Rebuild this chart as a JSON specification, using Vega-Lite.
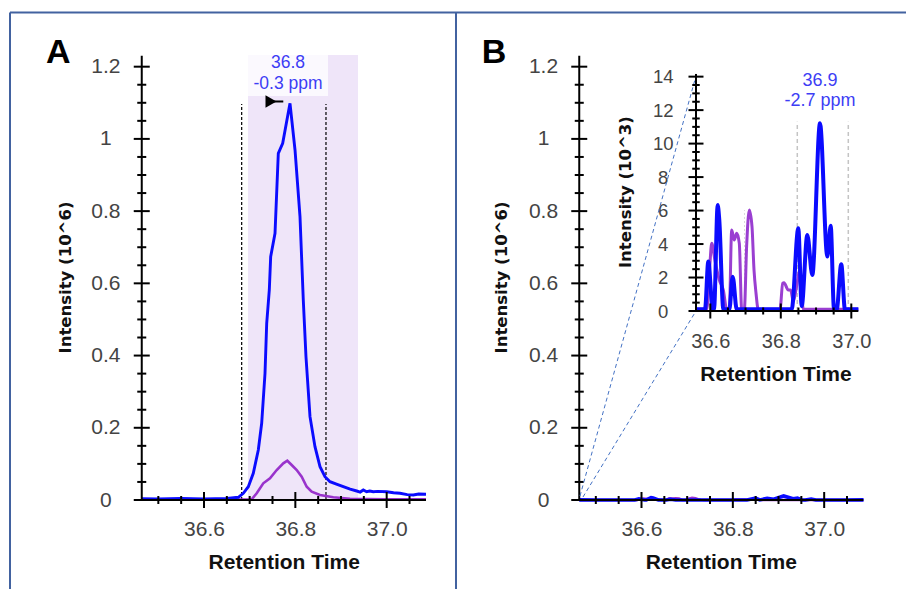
{
  "$schema": "https://vega.github.io/schema/vega-lite/v6.json",
  "width": 906,
  "height": 589,
  "padding": 0,
  "autosize": {"type": "none"},
  "background": "white",
  "config": {
    "view": {"stroke": null},
    "axis": {"domain": false, "ticks": false, "grid": false, "labelFont": "Liberation Sans", "labelFontSize": 21, "labelColor": "#444444", "titleFont": "Liberation Sans", "titleFontSize": 21, "titleFontWeight": "bold", "titleColor": "#111111", "labelOverlap": false, "labelFlush": false, "labelBound": false},
    "text": {"font": "Liberation Sans"}
  },
  "datasets": {
    "A": [
      {"t": 36.4637, "s": "b", "i": 3500}, {"t": 36.50, "s": "b", "i": 3000}, {"t": 36.55, "s": "b", "i": 4000}, {"t": 36.60, "s": "b", "i": 3000}, {"t": 36.65, "s": "b", "i": 4000},
      {"t": 36.6751, "s": "b", "i": 7500}, {"t": 36.6861, "s": "b", "i": 18600}, {"t": 36.6970, "s": "b", "i": 36800}, {"t": 36.7079, "s": "b", "i": 73900}, {"t": 36.7189, "s": "b", "i": 138500},
      {"t": 36.7263, "s": "b", "i": 212400}, {"t": 36.7336, "s": "b", "i": 350900}, {"t": 36.7373, "s": "b", "i": 489300}, {"t": 36.7430, "s": "b", "i": 581600}, {"t": 36.7460, "s": "b", "i": 673800},
      {"t": 36.7555, "s": "b", "i": 738600}, {"t": 36.7627, "s": "b", "i": 960100}, {"t": 36.7723, "s": "b", "i": 987800}, {"t": 36.7883, "s": "b", "i": 1098600}, {"t": 36.7993, "s": "b", "i": 969300},
      {"t": 36.8102, "s": "b", "i": 784600}, {"t": 36.8174, "s": "b", "i": 553900}, {"t": 36.8233, "s": "b", "i": 396800}, {"t": 36.8321, "s": "b", "i": 230700}, {"t": 36.8430, "s": "b", "i": 147600},
      {"t": 36.8540, "s": "b", "i": 92200}, {"t": 36.8649, "s": "b", "i": 64500}, {"t": 36.8759, "s": "b", "i": 50700}, {"t": 36.8900, "s": "b", "i": 44000}, {"t": 36.9050, "s": "b", "i": 36800},
      {"t": 36.9200, "s": "b", "i": 30000}, {"t": 36.9344, "s": "b", "i": 24900}, {"t": 36.9420, "s": "b", "i": 22000}, {"t": 36.9488, "s": "b", "i": 27700}, {"t": 36.9560, "s": "b", "i": 23000},
      {"t": 36.9630, "s": "b", "i": 25000}, {"t": 36.9707, "s": "b", "i": 23000}, {"t": 36.9800, "s": "b", "i": 24000}, {"t": 37.0000, "s": "b", "i": 23000}, {"t": 37.0150, "s": "b", "i": 20000},
      {"t": 37.0292, "s": "b", "i": 18600}, {"t": 37.0450, "s": "b", "i": 15000}, {"t": 37.0583, "s": "b", "i": 13800}, {"t": 37.0700, "s": "b", "i": 16500}, {"t": 37.0861, "s": "b", "i": 15800},
      {"t": 36.4637, "s": "p", "i": 1500}, {"t": 36.6000, "s": "p", "i": 1500}, {"t": 36.7044, "s": "p", "i": 2000}, {"t": 36.7154, "s": "p", "i": 18600}, {"t": 36.7298, "s": "p", "i": 46200},
      {"t": 36.7445, "s": "p", "i": 60000}, {"t": 36.7592, "s": "p", "i": 83100}, {"t": 36.7736, "s": "p", "i": 101600}, {"t": 36.7824, "s": "p", "i": 108800}, {"t": 36.7920, "s": "p", "i": 96900},
      {"t": 36.8030, "s": "p", "i": 83100}, {"t": 36.8139, "s": "p", "i": 64600}, {"t": 36.8249, "s": "p", "i": 36800}, {"t": 36.8358, "s": "p", "i": 23000}, {"t": 36.8540, "s": "p", "i": 13800},
      {"t": 36.8831, "s": "p", "i": 7500}, {"t": 36.9197, "s": "p", "i": 3600}, {"t": 37.0000, "s": "p", "i": 2000}, {"t": 37.0861, "s": "p", "i": 2000}
    ],
    "B": [
      {"t": 36.4637, "s": "b", "i": 300}, {"t": 36.5, "s": "b", "i": 200}, {"t": 36.5594, "s": "b", "i": 100}, {"t": 36.585, "s": "b", "i": 100}, {"t": 36.5943, "s": "b", "i": 2950},
      {"t": 36.607, "s": "b", "i": 100}, {"t": 36.6105, "s": "b", "i": 100}, {"t": 36.621, "s": "b", "i": 6330}, {"t": 36.6255, "s": "b", "i": 5440}, {"t": 36.637, "s": "b", "i": 100},
      {"t": 36.654, "s": "b", "i": 100}, {"t": 36.6635, "s": "b", "i": 2050}, {"t": 36.675, "s": "b", "i": 100}, {"t": 36.75, "s": "b", "i": 100}, {"t": 36.8, "s": "b", "i": 100},
      {"t": 36.8309, "s": "b", "i": 100}, {"t": 36.8496, "s": "b", "i": 4940}, {"t": 36.8593, "s": "b", "i": 300}, {"t": 36.8752, "s": "b", "i": 4540}, {"t": 36.8894, "s": "b", "i": 2150},
      {"t": 36.9112, "s": "b", "i": 11210}, {"t": 36.932, "s": "b", "i": 3250}, {"t": 36.9415, "s": "b", "i": 5100}, {"t": 36.951, "s": "b", "i": 100}, {"t": 36.9586, "s": "b", "i": 100},
      {"t": 36.9715, "s": "b", "i": 2800}, {"t": 36.982, "s": "b", "i": 100}, {"t": 37.02, "s": "b", "i": 100}, {"t": 37.05, "s": "b", "i": 200}, {"t": 37.0861, "s": "b", "i": 300},
      {"t": 36.4637, "s": "p", "i": 100}, {"t": 36.5594, "s": "p", "i": 100}, {"t": 36.59, "s": "p", "i": 100}, {"t": 36.598, "s": "p", "i": 2500}, {"t": 36.604, "s": "p", "i": 4040},
      {"t": 36.613, "s": "p", "i": 3050}, {"t": 36.6256, "s": "p", "i": 1850}, {"t": 36.637, "s": "p", "i": 1250}, {"t": 36.6465, "s": "p", "i": 100}, {"t": 36.654, "s": "p", "i": 100},
      {"t": 36.6607, "s": "p", "i": 4840}, {"t": 36.668, "s": "p", "i": 4240}, {"t": 36.675, "s": "p", "i": 4640}, {"t": 36.6823, "s": "p", "i": 4040}, {"t": 36.689, "s": "p", "i": 100},
      {"t": 36.6966, "s": "p", "i": 100}, {"t": 36.703, "s": "p", "i": 3840}, {"t": 36.7107, "s": "p", "i": 6030}, {"t": 36.7183, "s": "p", "i": 5040}, {"t": 36.724, "s": "p", "i": 2450},
      {"t": 36.7297, "s": "p", "i": 1060}, {"t": 36.736, "s": "p", "i": 100}, {"t": 36.7977, "s": "p", "i": 100}, {"t": 36.8054, "s": "p", "i": 1650}, {"t": 36.809, "s": "p", "i": 1690},
      {"t": 36.8213, "s": "p", "i": 1250}, {"t": 36.828, "s": "p", "i": 1250}, {"t": 36.8355, "s": "p", "i": 560}, {"t": 36.845, "s": "p", "i": 1500}, {"t": 36.8545, "s": "p", "i": 2450},
      {"t": 36.8638, "s": "p", "i": 100}, {"t": 37.02, "s": "p", "i": 100}, {"t": 37.0861, "s": "p", "i": 100}
    ],
    "ticks": [
      {"p": "main", "a": "x", "v": 36.5, "m": false}, {"p": "main", "a": "x", "v": 36.55, "m": false}, {"p": "main", "a": "x", "v": 36.6, "m": true}, {"p": "main", "a": "x", "v": 36.65, "m": false},
      {"p": "main", "a": "x", "v": 36.7, "m": false}, {"p": "main", "a": "x", "v": 36.75, "m": false}, {"p": "main", "a": "x", "v": 36.8, "m": true}, {"p": "main", "a": "x", "v": 36.85, "m": false},
      {"p": "main", "a": "x", "v": 36.9, "m": false}, {"p": "main", "a": "x", "v": 36.95, "m": false}, {"p": "main", "a": "x", "v": 37.0, "m": true}, {"p": "main", "a": "x", "v": 37.05, "m": false},
      {"p": "main", "a": "y", "v": 0, "m": true}, {"p": "main", "a": "y", "v": 50000, "m": false}, {"p": "main", "a": "y", "v": 100000, "m": false}, {"p": "main", "a": "y", "v": 150000, "m": false},
      {"p": "main", "a": "y", "v": 200000, "m": true}, {"p": "main", "a": "y", "v": 250000, "m": false}, {"p": "main", "a": "y", "v": 300000, "m": false}, {"p": "main", "a": "y", "v": 350000, "m": false},
      {"p": "main", "a": "y", "v": 400000, "m": true}, {"p": "main", "a": "y", "v": 450000, "m": false}, {"p": "main", "a": "y", "v": 500000, "m": false}, {"p": "main", "a": "y", "v": 550000, "m": false},
      {"p": "main", "a": "y", "v": 600000, "m": true}, {"p": "main", "a": "y", "v": 650000, "m": false}, {"p": "main", "a": "y", "v": 700000, "m": false}, {"p": "main", "a": "y", "v": 750000, "m": false},
      {"p": "main", "a": "y", "v": 800000, "m": true}, {"p": "main", "a": "y", "v": 850000, "m": false}, {"p": "main", "a": "y", "v": 900000, "m": false}, {"p": "main", "a": "y", "v": 950000, "m": false},
      {"p": "main", "a": "y", "v": 1000000, "m": true}, {"p": "main", "a": "y", "v": 1050000, "m": false}, {"p": "main", "a": "y", "v": 1100000, "m": false}, {"p": "main", "a": "y", "v": 1150000, "m": false},
      {"p": "main", "a": "y", "v": 1200000, "m": true},
      {"p": "inset", "a": "x", "v": 36.6, "m": true}, {"p": "inset", "a": "x", "v": 36.65, "m": false}, {"p": "inset", "a": "x", "v": 36.7, "m": false}, {"p": "inset", "a": "x", "v": 36.75, "m": false},
      {"p": "inset", "a": "x", "v": 36.8, "m": true}, {"p": "inset", "a": "x", "v": 36.85, "m": false}, {"p": "inset", "a": "x", "v": 36.9, "m": false}, {"p": "inset", "a": "x", "v": 36.95, "m": false},
      {"p": "inset", "a": "x", "v": 37.0, "m": true},
      {"p": "inset", "a": "y", "v": 0, "m": true}, {"p": "inset", "a": "y", "v": 500, "m": false}, {"p": "inset", "a": "y", "v": 1000, "m": false}, {"p": "inset", "a": "y", "v": 1500, "m": false},
      {"p": "inset", "a": "y", "v": 2000, "m": true}, {"p": "inset", "a": "y", "v": 2500, "m": false}, {"p": "inset", "a": "y", "v": 3000, "m": false}, {"p": "inset", "a": "y", "v": 3500, "m": false},
      {"p": "inset", "a": "y", "v": 4000, "m": true}, {"p": "inset", "a": "y", "v": 4500, "m": false}, {"p": "inset", "a": "y", "v": 5000, "m": false}, {"p": "inset", "a": "y", "v": 5500, "m": false},
      {"p": "inset", "a": "y", "v": 6000, "m": true}, {"p": "inset", "a": "y", "v": 6500, "m": false}, {"p": "inset", "a": "y", "v": 7000, "m": false}, {"p": "inset", "a": "y", "v": 7500, "m": false},
      {"p": "inset", "a": "y", "v": 8000, "m": true}, {"p": "inset", "a": "y", "v": 8500, "m": false}, {"p": "inset", "a": "y", "v": 9000, "m": false}, {"p": "inset", "a": "y", "v": 9500, "m": false},
      {"p": "inset", "a": "y", "v": 10000, "m": true}, {"p": "inset", "a": "y", "v": 10500, "m": false}, {"p": "inset", "a": "y", "v": 11000, "m": false}, {"p": "inset", "a": "y", "v": 11500, "m": false},
      {"p": "inset", "a": "y", "v": 12000, "m": true}, {"p": "inset", "a": "y", "v": 12500, "m": false}, {"p": "inset", "a": "y", "v": 13000, "m": false}, {"p": "inset", "a": "y", "v": 13500, "m": false},
      {"p": "inset", "a": "y", "v": 14000, "m": true}
    ]
  },
  "resolve": {"scale": {"x": "independent", "y": "independent"}, "axis": {"x": "independent", "y": "independent"}},
  "layer": [
    {
      "layer": [
        {
          "data": {"values": [{}]},
          "mark": {"type": "rect", "color": "#efe5f9"},
          "encoding": {
            "x": {"datum": 36.6963, "type": "quantitative", "scale": {"domain": [36.15332, 38.13711], "nice": false, "zero": false},
                  "axis": {"orient": "bottom", "offset": -89, "values": [36.6, 36.8, 37.0], "format": ".1f", "labelPadding": 18.4, "title": "Retention Time", "titleX": 283.7, "titleY": 62.3, "titleAlign": "center", "titleBaseline": "middle"}},
            "x2": {"datum": 36.9372},
            "y": {"datum": 0, "type": "quantitative", "scale": {"domain": [-246469, 1384658], "nice": false, "zero": false},
                  "axis": {"orient": "left", "offset": -141.7, "values": [0, 200000, 400000, 600000, 800000, 1000000, 1200000], "labelExpr": "format(datum.value / 1000000, '~g')", "labelAlign": "center", "labelBaseline": "middle", "labelPadding": 36.4, "title": "Intensity (10^6)", "titleX": -76.7, "titleY": 277, "titleAngle": 270, "titleAlign": "center", "titleBaseline": "middle", "titleFont": "DejaVu Sans", "titleFontSize": 16.5}},
            "y2": {"datum": 1232400}
          }
        },
        {
          "data": {"values": [{}]},
          "mark": {"type": "rect", "color": "#fbf9fe"},
          "encoding": {"x": {"datum": 36.6963, "type": "quantitative"}, "x2": {"datum": 36.8715}, "y": {"datum": 1118800, "type": "quantitative"}, "y2": {"datum": 1232400}}
        },
        {
          "data": {"values": [{"t": 36.6825}, {"t": 36.8671}]},
          "mark": {"type": "rule", "color": "#000000", "strokeDash": [3, 2], "strokeWidth": 1.2},
          "encoding": {"x": {"field": "t", "type": "quantitative"}, "y": {"datum": 0, "type": "quantitative"}, "y2": {"datum": 1096700}}
        },
        {
          "data": {"name": "A"},
          "transform": [{"filter": "datum.s == 'p'"}],
          "mark": {"type": "line", "color": "#9933cc", "strokeWidth": 2.6},
          "encoding": {"x": {"field": "t", "type": "quantitative"}, "y": {"field": "i", "type": "quantitative"}}
        },
        {
          "data": {"name": "A"},
          "transform": [{"filter": "datum.s == 'b'"}],
          "mark": {"type": "line", "color": "#0b0bff", "strokeWidth": 2.9},
          "encoding": {"x": {"field": "t", "type": "quantitative"}, "y": {"field": "i", "type": "quantitative"}}
        },
        {
          "data": {"values": [{}]},
          "mark": {"type": "rule", "color": "#000000", "strokeWidth": 2},
          "encoding": {"x": {"datum": 36.4637, "type": "quantitative"}, "y": {"datum": 0, "type": "quantitative"}, "y2": {"datum": 1230400}}
        },
        {
          "data": {"values": [{}]},
          "mark": {"type": "rule", "color": "#000000", "strokeWidth": 2},
          "encoding": {"x": {"datum": 36.4637, "type": "quantitative"}, "x2": {"datum": 37.0861}, "y": {"datum": 0, "type": "quantitative"}}
        },
        {
          "data": {"name": "ticks"},
          "transform": [{"filter": "datum.p == 'main' && datum.a == 'x'"}],
          "mark": {"type": "tick", "orient": "vertical", "color": "#000000", "thickness": 2, "opacity": 1},
          "encoding": {"x": {"field": "v", "type": "quantitative"}, "y": {"datum": 0, "type": "quantitative"}, "size": {"condition": {"test": "datum.m", "value": 16}, "value": 8}}
        },
        {
          "data": {"name": "ticks"},
          "transform": [{"filter": "datum.p == 'main' && datum.a == 'y'"}],
          "mark": {"type": "tick", "orient": "horizontal", "color": "#000000", "thickness": 2, "opacity": 1},
          "encoding": {"y": {"field": "v", "type": "quantitative"}, "x": {"datum": 36.4637, "type": "quantitative"}, "size": {"condition": {"test": "datum.m", "value": 16}, "value": 9}}
        },
        {
          "data": {"values": [{}]},
          "mark": {"type": "point", "shape": "triangle-right", "filled": true, "color": "#000000", "size": 160, "opacity": 1},
          "encoding": {"x": {"datum": 36.7467, "type": "quantitative"}, "y": {"datum": 1103600, "type": "quantitative"}}
        },
        {
          "data": {"values": [{}]},
          "mark": {"type": "rule", "color": "#000000", "strokeWidth": 2},
          "encoding": {"x": {"datum": 36.7467, "type": "quantitative"}, "x2": {"datum": 36.7736}, "y": {"datum": 1103600, "type": "quantitative"}}
        },
        {
          "data": {"values": [{}]},
          "mark": {"type": "text", "text": ["36.8", "-0.3 ppm"], "lineHeight": 21, "fontSize": 17.5, "color": "#3d3df5", "align": "center", "baseline": "middle"},
          "encoding": {"x": {"datum": 36.7839, "type": "quantitative"}, "y": {"datum": 1209360, "type": "quantitative"}}
        },
        {
          "data": {"values": [{}]},
          "mark": {"type": "text", "text": "A", "fontSize": 34, "fontWeight": "bold", "color": "#000000", "align": "center", "baseline": "alphabetic"},
          "encoding": {"x": {"datum": 36.2810, "type": "quantitative"}, "y": {"datum": 1211000, "type": "quantitative"}}
        },
        {
          "data": {"values": [{}]},
          "mark": {"type": "rule", "color": "#4262a0", "strokeWidth": 2},
          "encoding": {"x": {"datum": 36.17522, "type": "quantitative"}, "y": {"datum": 1350000, "type": "quantitative"}, "y2": {"datum": -300000}}
        },
        {
          "data": {"values": [{}]},
          "mark": {"type": "rule", "color": "#4262a0", "strokeWidth": 2},
          "encoding": {"x": {"datum": 36.17522, "type": "quantitative"}, "x2": {"datum": 38.2}, "y": {"datum": 1350000, "type": "quantitative"}}
        },
        {
          "data": {"values": [{}]},
          "mark": {"type": "rule", "color": "#4262a0", "strokeWidth": 2},
          "encoding": {"x": {"datum": 37.15178, "type": "quantitative"}, "y": {"datum": 1350000, "type": "quantitative"}, "y2": {"datum": -300000}}
        }
      ]
    },
    {
      "layer": [
        {
          "data": {"name": "B"},
          "transform": [{"filter": "datum.s == 'p'"}],
          "mark": {"type": "line", "color": "#9933cc", "strokeWidth": 2.5},
          "encoding": {
            "x": {"field": "t", "type": "quantitative", "scale": {"domain": [35.195358, 37.179155], "nice": false, "zero": false},
                  "axis": {"orient": "bottom", "offset": -89, "values": [36.6, 36.8, 37.0], "format": ".1f", "labelPadding": 18.4, "title": "Retention Time", "titleX": 720.8, "titleY": 62.3, "titleAlign": "center", "titleBaseline": "middle"}},
            "y": {"field": "i", "type": "quantitative", "scale": {"domain": [-246469, 1384658], "nice": false, "zero": false},
                  "axis": {"orient": "left", "offset": -579.3, "values": [0, 200000, 400000, 600000, 800000, 1000000, 1200000], "labelExpr": "format(datum.value / 1000000, '~g')", "labelAlign": "center", "labelBaseline": "middle", "labelPadding": 36.3, "title": "Intensity (10^6)", "titleX": -77.7, "titleY": 277, "titleAngle": 270, "titleAlign": "center", "titleBaseline": "middle", "titleFont": "DejaVu Sans", "titleFontSize": 16.5}}
          }
        },
        {
          "data": {"name": "B"},
          "transform": [{"filter": "datum.s == 'b'"}],
          "mark": {"type": "line", "color": "#0b0bff", "strokeWidth": 3.6},
          "encoding": {"x": {"field": "t", "type": "quantitative"}, "y": {"field": "i", "type": "quantitative"}}
        },
        {
          "data": {"values": [{}]},
          "mark": {"type": "rule", "color": "#000000", "strokeWidth": 2},
          "encoding": {"x": {"datum": 36.4637, "type": "quantitative"}, "y": {"datum": 0, "type": "quantitative"}, "y2": {"datum": 1230400}}
        },
        {
          "data": {"values": [{}]},
          "mark": {"type": "rule", "color": "#000000", "strokeWidth": 2},
          "encoding": {"x": {"datum": 36.4637, "type": "quantitative"}, "x2": {"datum": 37.0857}, "y": {"datum": 0, "type": "quantitative"}}
        },
        {
          "data": {"name": "ticks"},
          "transform": [{"filter": "datum.p == 'main' && datum.a == 'x'"}],
          "mark": {"type": "tick", "orient": "vertical", "color": "#000000", "thickness": 2, "opacity": 1},
          "encoding": {"x": {"field": "v", "type": "quantitative"}, "y": {"datum": 0, "type": "quantitative"}, "size": {"condition": {"test": "datum.m", "value": 16}, "value": 8}}
        },
        {
          "data": {"name": "ticks"},
          "transform": [{"filter": "datum.p == 'main' && datum.a == 'y'"}],
          "mark": {"type": "tick", "orient": "horizontal", "color": "#000000", "thickness": 2, "opacity": 1},
          "encoding": {"y": {"field": "v", "type": "quantitative"}, "x": {"datum": 36.4637, "type": "quantitative"}, "size": {"condition": {"test": "datum.m", "value": 16}, "value": 9}}
        },
        {
          "data": {"values": [{"x1": 36.4653, "y1": 11000, "x2": 36.7193, "y2": 1174200}, {"x1": 36.4719, "y1": 8300, "x2": 36.7193, "y2": 523400}]},
          "mark": {"type": "rule", "color": "#4472c4", "strokeWidth": 1, "strokeDash": [4, 3]},
          "encoding": {"x": {"field": "x1", "type": "quantitative"}, "y": {"field": "y1", "type": "quantitative"}, "x2": {"field": "x2"}, "y2": {"field": "y2"}}
        },
        {
          "data": {"values": [{}]},
          "mark": {"type": "text", "text": "B", "fontSize": 34, "fontWeight": "bold", "color": "#000000", "align": "center", "baseline": "alphabetic"},
          "encoding": {"x": {"datum": 36.27703, "type": "quantitative"}, "y": {"datum": 1211000, "type": "quantitative"}}
        }
      ]
    },
    {
      "layer": [
        {
          "data": {"values": [{"t": 36.8468}, {"t": 36.9915}]},
          "mark": {"type": "rule", "color": "#c4c4c4", "strokeWidth": 1.5, "strokeDash": [4, 3]},
          "encoding": {
            "x": {"field": "t", "type": "quantitative", "scale": {"domain": [34.58497, 37.15518], "nice": false, "zero": false},
                  "axis": {"orient": "bottom", "offset": -278, "values": [36.6, 36.8, 37.0], "format": ".1f", "labelFontSize": 20, "labelPadding": 20.8, "title": "Retention Time", "titleX": 775.5, "titleY": 63.3, "titleAlign": "center", "titleBaseline": "middle"}},
            "y": {"datum": 0, "type": "quantitative", "scale": {"domain": [-16606.9, 18578.3], "nice": false, "zero": false},
                  "axis": {"orient": "left", "offset": -696, "values": [0, 2000, 4000, 6000, 8000, 10000, 12000, 14000], "labelExpr": "format(datum.value / 1000, '~g')", "labelAlign": "center", "labelBaseline": "middle", "labelPadding": 33.3, "labelFontSize": 18.5, "title": "Intensity (10^3)", "titleX": -71, "titleY": 191.6, "titleAngle": 270, "titleAlign": "center", "titleBaseline": "middle", "titleFont": "DejaVu Sans", "titleFontSize": 16.5}},
            "y2": {"datum": 11310}
          }
        },
        {
          "data": {"values": [{"t": 36.697}]},
          "mark": {"type": "rule", "color": "#dadada", "strokeWidth": 1, "strokeDash": [2, 2]},
          "encoding": {"x": {"field": "t", "type": "quantitative"}, "y": {"datum": 0, "type": "quantitative"}, "y2": {"datum": 6030}}
        },
        {
          "data": {"name": "B"},
          "transform": [{"filter": "datum.s == 'p' && datum.t >= 36.5594 && datum.t <= 37.02"}],
          "mark": {"type": "line", "color": "#9a3fd1", "strokeWidth": 3, "interpolate": "monotone"},
          "encoding": {"x": {"field": "t", "type": "quantitative"}, "y": {"field": "i", "type": "quantitative"}}
        },
        {
          "data": {"name": "B"},
          "transform": [{"filter": "datum.s == 'b' && datum.t >= 36.5594 && datum.t <= 37.02"}],
          "mark": {"type": "line", "color": "#0b0bff", "strokeWidth": 4, "interpolate": "monotone"},
          "encoding": {"x": {"field": "t", "type": "quantitative"}, "y": {"field": "i", "type": "quantitative"}}
        },
        {
          "data": {"values": [{}]},
          "mark": {"type": "rule", "color": "#000000", "strokeWidth": 2},
          "encoding": {"x": {"datum": 36.5594, "type": "quantitative"}, "y": {"datum": 0, "type": "quantitative"}, "y2": {"datum": 14160}}
        },
        {
          "data": {"values": [{}]},
          "mark": {"type": "rule", "color": "#000000", "strokeWidth": 2},
          "encoding": {"x": {"datum": 36.5594, "type": "quantitative"}, "x2": {"datum": 37.0199}, "y": {"datum": 0, "type": "quantitative"}}
        },
        {
          "data": {"name": "ticks"},
          "transform": [{"filter": "datum.p == 'inset' && datum.a == 'x'"}],
          "mark": {"type": "tick", "orient": "vertical", "color": "#000000", "thickness": 2, "opacity": 1},
          "encoding": {"x": {"field": "v", "type": "quantitative"}, "y": {"datum": 0, "type": "quantitative"}, "size": {"condition": {"test": "datum.m", "value": 15}, "value": 7}}
        },
        {
          "data": {"name": "ticks"},
          "transform": [{"filter": "datum.p == 'inset' && datum.a == 'y'"}],
          "mark": {"type": "tick", "orient": "horizontal", "color": "#000000", "thickness": 2, "opacity": 1},
          "encoding": {"y": {"field": "v", "type": "quantitative"}, "x": {"datum": 36.5594, "type": "quantitative"}, "size": {"condition": {"test": "datum.m", "value": 15}, "value": 7.5}}
        },
        {
          "data": {"values": [{}]},
          "mark": {"type": "text", "text": ["36.9", "-2.7 ppm"], "lineHeight": 20, "fontSize": 18, "color": "#3d3df5", "align": "center", "baseline": "middle"},
          "encoding": {"x": {"datum": 36.9112, "type": "quantitative"}, "y": {"datum": 13740, "type": "quantitative"}}
        }
      ]
    }
  ]
}
